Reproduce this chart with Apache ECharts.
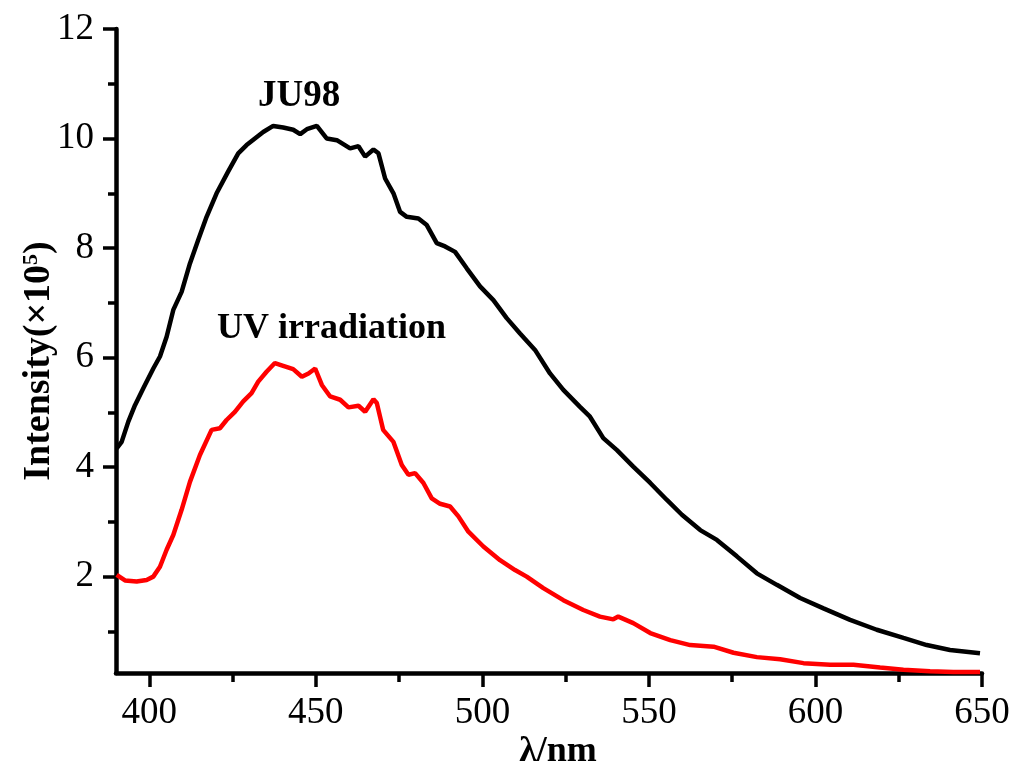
<!DOCTYPE html>
<html>
<head>
<meta charset="utf-8">
<script src="https://cdn.jsdelivr.net/npm/echarts@6/dist/echarts.min.js"></script>
<style>
  html, body { margin: 0; padding: 0; background: #fff; }
  #chart { width: 1016px; height: 769px; }
</style>
</head>
<body>
<div id="chart"></div>
<script>
// JU98 emission (black)
const juX = [390.2, 391.7, 393.7, 395.7, 398.2, 401.2, 403.2, 405.2, 407.2, 409.7,
  412.2, 414.7, 417.2, 420.2, 423.7, 426.7, 429.2, 431.7, 434.2, 437.2,
  440.2, 443.2, 445.3, 447.3, 450.3, 453.3, 456.3, 460.3, 462.8, 464.8,
  467.3, 468.8, 470.8, 473.3, 475.3, 477.3, 480.8, 483.3, 486.3, 488.8,
  491.8, 495.3, 499.3, 503.3, 507.3, 511.3, 515.8, 520.3, 524.3, 529.3,
  532.3, 536.3, 540.4, 545.3, 550.4, 555.4, 559.9, 565.4, 570.4, 576.4,
  582.4, 588.4, 595.4, 602.4, 610.4, 618.4, 626.4, 633.4, 640.4, 649.4]
const juY = [4.34, 4.46, 4.83, 5.13, 5.44, 5.80, 6.02, 6.38, 6.87, 7.20,
  7.72, 8.15, 8.57, 9.00, 9.40, 9.73, 9.88, 10.00, 10.12, 10.23,
  10.20, 10.16, 10.08, 10.17, 10.23, 10.00, 9.97, 9.82, 9.86, 9.67,
  9.80, 9.73, 9.27, 9.00, 8.66, 8.57, 8.54, 8.42, 8.09, 8.03,
  7.93, 7.63, 7.30, 7.05, 6.72, 6.44, 6.14, 5.71, 5.41, 5.10,
  4.92, 4.53, 4.31, 4.01, 3.71, 3.40, 3.13, 2.85, 2.67, 2.37,
  2.06, 1.85, 1.61, 1.42, 1.21, 1.03, 0.88, 0.75, 0.66, 0.60]

// after UV irradiation (red)
const uvX = [390.2, 392.7, 396.2, 399.2, 401.2, 403.2, 405.2, 407.2, 409.7, 412.2,
  415.2, 418.7, 421.2, 423.2, 425.7, 428.2, 430.7, 432.7, 435.2, 437.7,
  440.2, 443.2, 445.8, 447.8, 449.8, 451.8, 454.3, 457.3, 459.8, 462.8,
  464.8, 467.3, 468.3, 470.2, 473.3, 475.8, 477.8, 479.8, 482.3, 484.8,
  487.3, 490.3, 492.8, 495.8, 500.3, 505.3, 509.8, 513.3, 518.3, 524.3,
  530.3, 535.3, 539.3, 540.8, 545.3, 550.4, 556.4, 562.4, 569.4, 575.4,
  582.4, 589.4, 596.4, 604.4, 611.4, 619.4, 626.4, 634.4, 641.4, 649.4]
const uvY = [2.03, 1.93, 1.91, 1.94, 2.00, 2.18, 2.49, 2.76, 3.22, 3.73,
  4.22, 4.68, 4.71, 4.86, 5.01, 5.20, 5.35, 5.56, 5.74, 5.90,
  5.85, 5.79, 5.65, 5.71, 5.80, 5.50, 5.29, 5.23, 5.09, 5.12,
  5.01, 5.24, 5.17, 4.68, 4.46, 4.04, 3.86, 3.89, 3.71, 3.43,
  3.33, 3.28, 3.10, 2.82, 2.55, 2.30, 2.12, 2.00, 1.79, 1.57,
  1.39, 1.27, 1.22, 1.27, 1.15, 0.97, 0.84, 0.75, 0.72, 0.61,
  0.53, 0.49, 0.42, 0.39, 0.39, 0.34, 0.30, 0.27, 0.26, 0.26]

const xMajor = [400, 450, 500, 550, 600, 650]
const xMinor = [425, 475, 525, 575, 625]
const yMajor = [2, 4, 6, 8, 10, 12]
const yMinor = [1, 3, 5, 7, 9, 11]

const font = "'Liberation Serif', 'Times New Roman', serif"

const chart = echarts.init(document.getElementById('chart'))

const pairs = (xs, ys) => xs.map((x, i) => [x, ys[i]])

const option = {
  animation: false,
  backgroundColor: '#fff',
  grid: { left: 116, right: 34, top: 29, bottom: 96, outerBoundsMode: 'none', containLabel: false },
  xAxis: [
    {
      type: 'value',
      min: 390,
      max: 650,
      name: 'λ/nm',
      nameLocation: 'middle',
      nameGap: 61,
      nameMoveOverlap: false,
      nameTextStyle: { fontFamily: font, fontWeight: 'bold', fontSize: 36, color: '#000', padding: [0, 0, 0, 18] },
      axisLine: { lineStyle: { color: '#000', width: 4.5 } },
      axisTick: { customValues: xMajor, length: 14, lineStyle: { color: '#000', width: 3.5 } },
      axisLabel: { customValues: xMajor, fontFamily: font, fontSize: 37, color: '#000', margin: 22 },
      splitLine: { show: false }
    },
    {
      type: 'value',
      min: 390,
      max: 650,
      position: 'bottom',
      axisLine: { show: false },
      axisTick: { customValues: xMinor, length: 9, lineStyle: { color: '#000', width: 3.5 } },
      axisLabel: { show: false },
      splitLine: { show: false }
    }
  ],
  yAxis: [
    {
      type: 'value',
      min: 0.24,
      max: 12,
      name: '{a|Intensity(×10}{s|5}{a|)}',
      nameLocation: 'middle',
      nameGap: 58,
      nameMoveOverlap: false,
      nameTextStyle: {
        padding: [0, 20, 0, 0],
        rich: {
          a: { fontFamily: font, fontWeight: 'bold', fontSize: 38, color: '#000' },
          s: { fontFamily: font, fontWeight: 'bold', fontSize: 22, color: '#000', verticalAlign: 'top', padding: [0, 0, 14, 0] }
        }
      },
      axisLine: { lineStyle: { color: '#000', width: 4.5 } },
      axisTick: { customValues: yMajor, length: 13, lineStyle: { color: '#000', width: 3.5 } },
      axisLabel: { customValues: yMajor, fontFamily: font, fontSize: 37, color: '#000', margin: 22 },
      splitLine: { show: false }
    },
    {
      type: 'value',
      min: 0.24,
      max: 12,
      position: 'left',
      axisLine: { show: false },
      axisTick: { customValues: yMinor, length: 8, lineStyle: { color: '#000', width: 3.5 } },
      axisLabel: { show: false },
      splitLine: { show: false }
    }
  ],
  graphic: [
    {
      type: 'text',
      left: 258,
      top: 78,
      style: { text: 'JU98', fontFamily: font, fontWeight: 'bold', fontSize: 37, fill: '#000' }
    },
    {
      type: 'text',
      left: 217,
      top: 311,
      style: { text: 'UV irradiation', fontFamily: font, fontWeight: 'bold', fontSize: 36, fill: '#000' }
    }
  ],
  series: [
    {
      name: 'JU98',
      type: 'line',
      data: pairs(juX, juY),
      showSymbol: false,
      lineStyle: { color: '#000', width: 4.5 },
      itemStyle: { color: '#000' }
    },
    {
      name: 'UV irradiation',
      type: 'line',
      data: pairs(uvX, uvY),
      showSymbol: false,
      lineStyle: { color: '#ff0000', width: 4.5 },
      itemStyle: { color: '#ff0000' }
    }
  ]
}

chart.setOption(option)
</script>
</body>
</html>
